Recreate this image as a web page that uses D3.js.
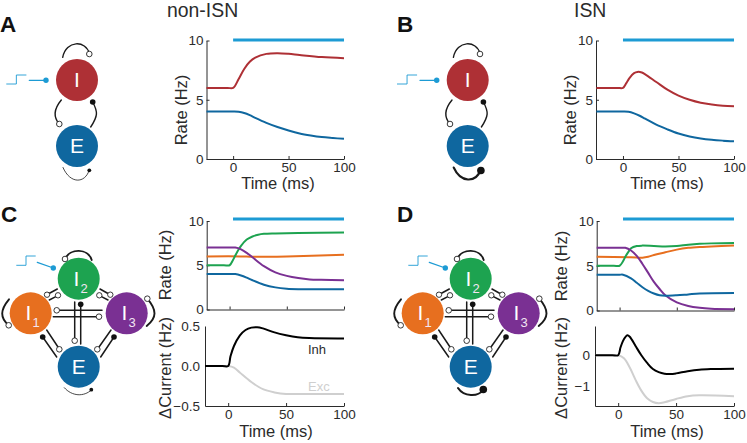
<!DOCTYPE html>
<html><head><meta charset="utf-8">
<script src="https://cdn.jsdelivr.net/npm/d3@7"></script>
<style>html,body{margin:0;padding:0;background:#fff}svg{display:block}text{font-family:"Liberation Sans",Arial,sans-serif}</style>
</head><body><svg id="c" width="747" height="443"></svg>
<script>
// ---------- data (t in ms, value) ----------
const xTicks=[0,50,100];
const rateTicks=[0,5,10];
const curTicksC=[-0.5,0,0.5];
const curTicksD=[-1,0];
const stimA=[0,100], stimC=[3,100];
const tA_I=[-24,-5,0,5,10,15,20,30,40,50,60,80,100];
const vA_I=[6,6,6,6.75,7.6,8.2,8.55,8.87,8.93,8.88,8.78,8.6,8.5];
const tA_E=[-24,-5,0,5,10,15,20,30,40,50,60,70,80,90,100];
const vA_E=[4,4,4,3.98,3.88,3.7,3.47,3.05,2.7,2.4,2.15,1.98,1.85,1.77,1.7];
const tB_I=[-24,-5,0,3,6,10,13,17,20,30,40,50,60,70,80,90,100];
const vB_I=[6,6,6,6.4,6.85,7.25,7.35,7.3,7.15,6.5,5.85,5.35,5,4.75,4.6,4.5,4.45];
const tB_E=[-24,-5,0,5,10,15,20,30,40,50,60,70,80,90,100];
const vB_E=[4,4,4,3.98,3.85,3.65,3.4,2.9,2.5,2.15,1.9,1.73,1.62,1.55,1.5];
const tC_G=[-20,-5,0,3,5,8,10,15,20,25,30,40,60,100];
const vC_G=[5,5,5,5.6,6.1,6.8,7.2,7.9,8.25,8.45,8.55,8.6,8.65,8.7];
const tC_O=[-20,10,20,50,100];
const vC_O=[6,6,5.95,6,6.2];
const tC_P=[-20,0,5,10,15,20,30,40,50,60,70,80,100];
const vC_P=[7,7,7,6.8,6.4,5.9,4.9,4.2,3.8,3.55,3.4,3.35,3.3];
const tC_E=[-20,0,5,10,15,20,30,40,50,60,100];
const vC_E=[4,4,4,3.85,3.6,3.3,2.8,2.5,2.35,2.3,2.3];
const tD_G=[-20,-5,0,3,5,8,10,15,20,30,40,50,60,70,80,100];
const vD_G=[5,5,5,5.5,6,6.6,6.95,7.2,7.25,7.2,7.15,7.2,7.35,7.45,7.5,7.55];
const tD_O=[-20,10,20,25,30,40,50,60,70,80,100];
const vD_O=[6,5.95,5.9,6,6.2,6.5,6.8,7,7.1,7.15,7.25];
const tD_P=[-20,0,5,10,15,20,25,30,35,40,50,60,70,80,100];
const vD_P=[7,7,7,6.7,6.1,5.2,4.2,3.2,2.4,1.7,0.9,0.5,0.3,0.2,0.15];
const tD_E=[-20,0,3,10,15,20,25,30,35,40,50,60,70,100];
const vD_E=[4,4,4,3.6,3.1,2.6,2.2,1.9,1.7,1.65,1.7,1.8,1.9,1.95];
const tC_Inh=[-20,-5,0,2,5,10,15,20,25,30,40,50,60,70,100];
const vC_Inh=[0,0,0,.12,.25,.38,.45,.48,.485,.47,.42,.385,.36,.35,.345];
const tC_Exc=[-20,-5,0,5,10,20,30,40,50,60,100];
const vC_Exc=[0,0,0,-.02,-.08,-.2,-.29,-.33,-.35,-.35,-.35];
const tD_Inh=[-20,-5,0,2,4,6,8,10,15,20,25,30,35,40,45,50,60,70,80,100];
const vD_Inh=[0,0,0,.25,.45,.58,.65,.6,.3,0,-.25,-.45,-.55,-.6,-.61,-.59,-.52,-.47,-.45,-.44];
const tD_Exc=[-20,-5,0,5,10,15,20,25,30,35,40,50,60,70,100];
const vD_Exc=[0,0,0,-.1,-.4,-.8,-1.15,-1.4,-1.52,-1.56,-1.53,-1.42,-1.33,-1.3,-1.33];

const COL={red:"#ae3035",blue:"#0f679f",green:"#1da350",orange:"#e76f1f",purple:"#7a3093",sky:"#1d9bd4",ink:"#2b2b2b"};
const svg=d3.select("#c");
const line=(x,y)=>d3.line().x(d=>x(d[0])).y(d=>y(d[1])).curve(d3.curveCatmullRom.alpha(0.5));

function plot(o){
  const x=d3.scaleLinear().domain(o.xd).range(o.xr);
  const y=d3.scaleLinear().domain(o.yd).range(o.yr);
  const g=svg.append("g");
  const ax=g.append("g").attr("transform",`translate(0,${o.yr[0]})`)
    .call(d3.axisBottom(x).tickValues(xTicks).tickSizeInner(-3).tickSizeOuter(0).tickPadding(3).tickFormat(o.xlabels?d3.format("d"):""));
  const ay=g.append("g").attr("transform",`translate(${o.xr[0]},0)`)
    .call(d3.axisLeft(y).tickValues(o.yt).tickSizeInner(o.noYtick?0:-3).tickSizeOuter(0).tickPadding(o.pad||3).tickFormat(o.fmt||d3.format("d")));
  [ax,ay].forEach(a=>{a.selectAll("path,line").attr("stroke",COL.ink).attr("stroke-width",1);
    a.selectAll("text").attr("fill",COL.ink).attr("font-size",13.5).attr("font-family",'"Liberation Sans",Arial,sans-serif');});
  o.series.forEach(s=>{
    g.append("path").datum(d3.zip(s.t,s.v)).attr("fill","none").attr("stroke",s.c).attr("stroke-width",s.w||2)
     .attr("d",line(x,y));
  });
  if(o.stim) g.append("line").attr("x1",x(o.stim[0])).attr("x2",x(o.stim[1])).attr("y1",o.stimY).attr("y2",o.stimY)
     .attr("stroke",COL.sky).attr("stroke-width",3);
}
const common={yd:[0,10],yt:rateTicks};
plot({...common,xd:[-24,100],xr:[206.5,344],yr:[159,40.5],xlabels:true,stim:stimA,stimY:40,
  series:[{t:tA_I,v:vA_I,c:COL.red},{t:tA_E,v:vA_E,c:COL.blue}]});
plot({...common,xd:[-24.3,100],xr:[596,734],yr:[159,40.5],xlabels:true,stim:stimA,stimY:40,
  series:[{t:tB_I,v:vB_I,c:COL.red},{t:tB_E,v:vB_E,c:COL.blue}]});
plot({...common,xd:[-20,100],xr:[206.7,344],yr:[309.5,221],stim:stimC,stimY:219,
  series:[{t:tC_O,v:vC_O,c:COL.orange},{t:tC_G,v:vC_G,c:COL.green},{t:tC_P,v:vC_P,c:COL.purple},{t:tC_E,v:vC_E,c:COL.blue}]});
plot({...common,xd:[-20,100],xr:[596.7,734],yr:[310.5,221],stim:stimC,stimY:219,
  series:[{t:tD_O,v:vD_O,c:COL.orange},{t:tD_G,v:vD_G,c:COL.green},{t:tD_P,v:vD_P,c:COL.purple},{t:tD_E,v:vD_E,c:COL.blue}]});
plot({xd:[-20,100],xr:[205,344],yd:[-0.5,0.5],yr:[406,326],yt:curTicksC,noYtick:true,pad:5,xlabels:true,
  fmt:d=>d3.format(".1f")(d).replace("-","\u2212"),
  series:[{t:tC_Exc,v:vC_Exc,c:"#cfcfcf"},{t:tC_Inh,v:vC_Inh,c:"#000"}]});
plot({xd:[-20,100],xr:[595,734],yd:[-1.65,0.95],yr:[406,326],yt:curTicksD,noYtick:true,pad:5,xlabels:true,
  fmt:d=>String(d).replace("-","\u2212"),
  series:[{t:tD_Exc,v:vD_Exc,c:"#cfcfcf"},{t:tD_Inh,v:vD_Inh,c:"#000"}]});

function txt(s,x,y,size,opt={}){
  const t=svg.append("text").attr("x",x).attr("y",y).attr("font-size",size).attr("fill",opt.fill||COL.ink)
    .attr("text-anchor",opt.anchor||"start").attr("font-weight",opt.bold?"bold":"normal").text(s);
  if(opt.rot) t.attr("transform",`rotate(-90 ${x} ${y})`);
  return t;
}
txt("non-ISN",167,17,19.4);txt("ISN",574,17,19.4);
[["A",0,32],["B",397,32],["C",1,222],["D",397,222]].forEach(d=>txt(d[0],d[1],d[2],22.5,{bold:true,fill:"#111"}));
[[278,188.5],[667,188.5],[276,437],[667,437]].forEach(d=>txt("Time (ms)",d[0],d[1],16.5,{anchor:"middle"}));
[[186.5,110],[576,110],[171,265],[566.5,266]].forEach(d=>txt("Rate (Hz)",d[0],d[1],16.5,{anchor:"middle",rot:true}));
[[171,368],[566.5,368]].forEach(d=>txt("\u0394Current (Hz)",d[0],d[1],16.5,{anchor:"middle",rot:true}));
txt("Inh",308,354,13);txt("Exc",308,391,13,{fill:"#cfcfcf"});

// ---------- network schematics ----------
function net(dx,dy){
  const g=svg.append("g").attr("transform",`translate(${dx},${dy})`);
  const P=(d,w=1.4,c="#1a1a1a")=>g.append("path").attr("d",d).attr("fill","none").attr("stroke",c).attr("stroke-width",w).attr("stroke-linecap","round");
  const dot=(x,y,r,filled=true,c="#111")=>g.append("circle").attr("cx",x).attr("cy",y).attr("r",r)
     .attr("fill",filled?c:"#fff").attr("stroke",filled?"none":"#222").attr("stroke-width",0.9);
  const node=(x,y,c,l,sub,fs)=>{
    g.append("circle").attr("cx",x).attr("cy",y).attr("r",21).attr("fill",c);
    g.append("text").attr("x",sub?x-2.4:x).attr("y",y+fs*0.34).attr("text-anchor","middle").attr("fill","#fff").attr("font-size",fs).text(l);
    if(sub) g.append("text").attr("x",x+5.5).attr("y",y+14).attr("text-anchor","middle").attr("fill","#f2e6f2").attr("font-size",13).text(sub);
  };
  return {g,P,dot,node};
}
function step(n,x0,y0,x1,y1,ax0,ay0,ax1,ay1){
  n.P(`M${x0},${y1}H${(x0+x1)/2}V${y0}H${x1}`,0.9,COL.sky);
  n.P(`M${ax0},${ay0}L${ax1},${ay1}`,1.3,COL.sky);
  n.dot(ax1,ay1,2.7,true,COL.sky);
}
function twoNode(dx,strong){
  const n=net(dx,0);
  step(n,6.7,75,26,84,29.3,80.3,46,80.3);
  n.P("M62.7,57.3C66,40 86,40 89.3,53.5",1.4); n.dot(89.3,54,2.8,false);
  n.P("M61.3,100C53,110 54,118 59.3,124",1.4); n.dot(59.3,124,2.8,false);
  n.P("M90.7,127C98,116 98,112 92.7,102",1.4); n.dot(92.7,102,2.8,true);
  if(strong){n.P("M63,167.5C70,183 85,183 90,170",2.1); n.dot(90.2,170.5,3.8,true);}
  else{n.P("M63,167.5C70,184 85,184 89.3,170",0.8); n.dot(89.3,170.3,1.9,true);}
  n.node(77,80,COL.red,"I",null,21);
  n.node(77,146,COL.blue,"E",null,21);
}
twoNode(0,false); twoNode(390.7,true);
function fourNode(dx,strong){
  const n=net(dx,200);
  step(n,16.7,56,35.3,65.3,37.3,62.3,53.3,68);
  const w=1.5;
  n.P("M65,59C70,48 88,48 91.7,60",1.9); n.dot(65,59,2.8,false);
  n.P("M49,93.5L57.3,89",w); n.dot(47,94.7,2.7,false);
  n.P("M56.3,96.3L49.3,100",w); n.dot(58,95.3,2.7,false);
  n.P("M108,93.5L100,89",w); n.dot(110.3,94.7,2.7,false);
  n.P("M101,96.3L108,100",w); n.dot(99.3,95.3,2.7,false);
  n.P("M59,110.3H102",w); n.dot(56.7,110.3,2.8,false);
  n.P("M53.3,116.7H97",w); n.dot(99,116.7,2.8,false);
  n.P("M74.7,102V138.5",w); n.dot(74.7,140.7,2.8,false);
  n.P("M80.7,105V144",w); n.dot(80.7,104.3,2.8,true);
  n.P("M42.7,137L56.7,157",w); n.dot(42.7,137,2.8,true);
  n.P("M46.7,130L58,147",w); n.dot(59.3,149.3,2.8,false);
  n.P("M114,137L100.7,157",w); n.dot(114,137,2.8,true);
  n.P("M111,130L99,147",w); n.dot(97.3,149.3,2.8,false);
  n.P("M9,99.3C0,110 0,118 8.7,125.3",1.9); n.dot(8.7,125.3,2.8,false);
  n.P("M147.3,98.7C157,110 157,118 146.7,126",1.9); n.dot(147.3,98.7,2.8,false);
  if(strong){n.P("M66,188C72,197 86,197 91,190",2.1); n.dot(91.3,189.5,3.8,true);}
  else{n.P("M64.3,187.7C72,196.5 84,197 91.3,190",0.8); n.dot(91.3,189.7,1.9,true);}
  n.node(78.7,78.7,COL.green,"I","2",21);
  n.node(30.7,113.3,COL.orange,"I","1",21);
  n.node(126.7,113.3,COL.purple,"I","3",21);
  n.node(78.7,166.7,COL.blue,"E",null,21);
}
fourNode(0,false); fourNode(392,true);
</script></body></html>
